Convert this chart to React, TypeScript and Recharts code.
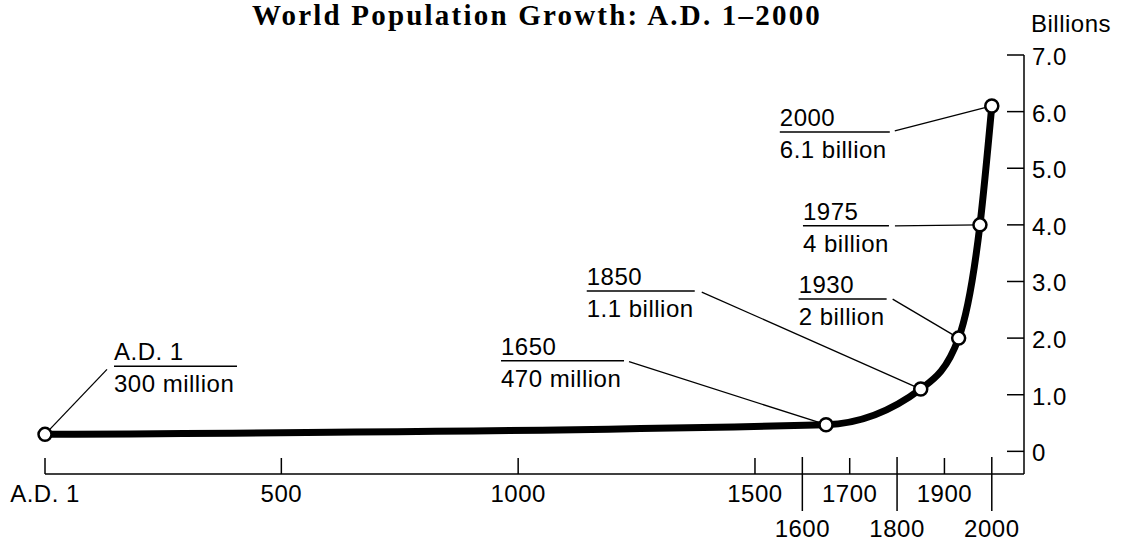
import { LineChart, Line, XAxis, YAxis } from 'recharts'

const years = [1, 1650, 1850, 1930, 1975, 2000]
const population = [0.3, 0.47, 1.1, 2, 4, 6.1]
const yearLabels = ['A.D. 1', '1650', '1850', '1930', '1975', '2000']
const popLabels = ['300 million', '470 million', '1.1 billion', '2 billion', '4 billion', '6.1 billion']
const xTicks = [1, 500, 1000, 1500, 1600, 1700, 1800, 1900, 2000]
const xLowerRow = [1600, 1800, 2000]
const yTicks = [0, 1, 2, 3, 4, 5, 6, 7]

const data = years.map((year, i) => ({ year, pop: population[i] }))

// where each callout sits, relative to its point: text left, rule y, rule width, leader start
const callouts = [
  { dx: 69, dy: -68, w: 123, lx: 62, ly: -65 },
  { dx: -325, dy: -64, w: 123, lx: -197, ly: -63 },
  { dx: -334, dy: -98, w: 108, lx: -219, ly: -97 },
  { dx: -160, dy: -39, w: 88, lx: -66, ly: -39 },
  { dx: -177, dy: 1, w: 86, lx: -85, ly: 1 },
  { dx: -212, dy: 26, w: 110, lx: -97, ly: 25 },
]

const sans = '"Liberation Sans", Arial, Helvetica, sans-serif'
const textStyle = { fontFamily: sans, fontSize: 24, letterSpacing: 0.5, fill: '#000' }

function Callout(props: any) {
  const { cx, cy, index } = props
  const c = callouts[index]
  const left = cx + c.dx
  const ruleY = cy + c.dy
  return (
    <g>
      <line x1={cx + c.lx} y1={cy + c.ly} x2={cx} y2={cy} stroke="#000" strokeWidth={1.3} />
      <line x1={left} y1={ruleY} x2={left + c.w} y2={ruleY} stroke="#000" strokeWidth={1.5} />
      <text x={left} y={ruleY - 6} style={textStyle}>{yearLabels[index]}</text>
      <text x={left} y={ruleY + 26} style={textStyle}>{popLabels[index]}</text>
      <circle cx={cx} cy={cy} r={6.5} fill="#fff" stroke="#000" strokeWidth={2.5} />
    </g>
  )
}

function XTick(props: any) {
  const { x, y, payload } = props
  const v = payload.value
  const lower = xLowerRow.includes(v)
  const label = v === 1 ? 'A.D. 1' : String(v)
  return (
    <g>
      <line x1={x} x2={x} y1={y - (lower ? 17 : 16)} y2={lower ? y + 37 : y} stroke="#000" strokeWidth={1.5} />
      <text x={x} y={lower ? y + 63 : y + 28} textAnchor="middle" style={textStyle}>{label}</text>
    </g>
  )
}

function YTick(props: any) {
  const { x, y, payload } = props
  const v = payload.value
  return (
    <g>
      <line x1={x - 25} x2={x - 8} y1={y} y2={y} stroke="#000" strokeWidth={1.5} />
      <text x={x} y={y + 10} style={textStyle}>{v === 0 ? '0' : v.toFixed(1)}</text>
    </g>
  )
}

export default function App() {
  return (
    <div style={{ position: 'absolute', left: 0, top: 0, width: 1131, height: 541, background: '#fff' }}>
      <LineChart width={1131} height={541} data={data} margin={{ top: 55, right: 0, bottom: 0, left: 45 }}>
        <XAxis
          dataKey="year"
          type="number"
          domain={[1, 2068]}
          ticks={xTicks}
          interval={0}
          tick={<XTick />}
          tickLine={false}
          tickSize={0}
          tickMargin={0}
          height={67}
          axisLine={{ stroke: '#000', strokeWidth: 1.5 }}
        />
        <YAxis
          orientation="right"
          type="number"
          domain={[-0.4, 7]}
          ticks={yTicks}
          interval={0}
          tick={<YTick />}
          tickLine={false}
          tickSize={0}
          tickMargin={8}
          width={107}
          axisLine={{ stroke: '#000', strokeWidth: 1.5 }}
        />
        <Line
          type="monotone"
          dataKey="pop"
          stroke="#000"
          strokeWidth={7}
          dot={(p: any) => <Callout key={p.index} {...p} />}
          activeDot={false}
          isAnimationActive={false}
        />
      </LineChart>
      <svg width={1131} height={541} style={{ position: 'absolute', left: 0, top: 0, pointerEvents: 'none' }}>
        <text
          x={537}
          y={25}
          textAnchor="middle"
          style={{ fontFamily: '"Liberation Serif", "Times New Roman", serif', fontWeight: 'bold', fontSize: 29, letterSpacing: 2.2 }}
        >
          World Population Growth: A.D. 1–2000
        </text>
        <text x={1031} y={32} style={textStyle}>Billions</text>
      </svg>
    </div>
  )
}
